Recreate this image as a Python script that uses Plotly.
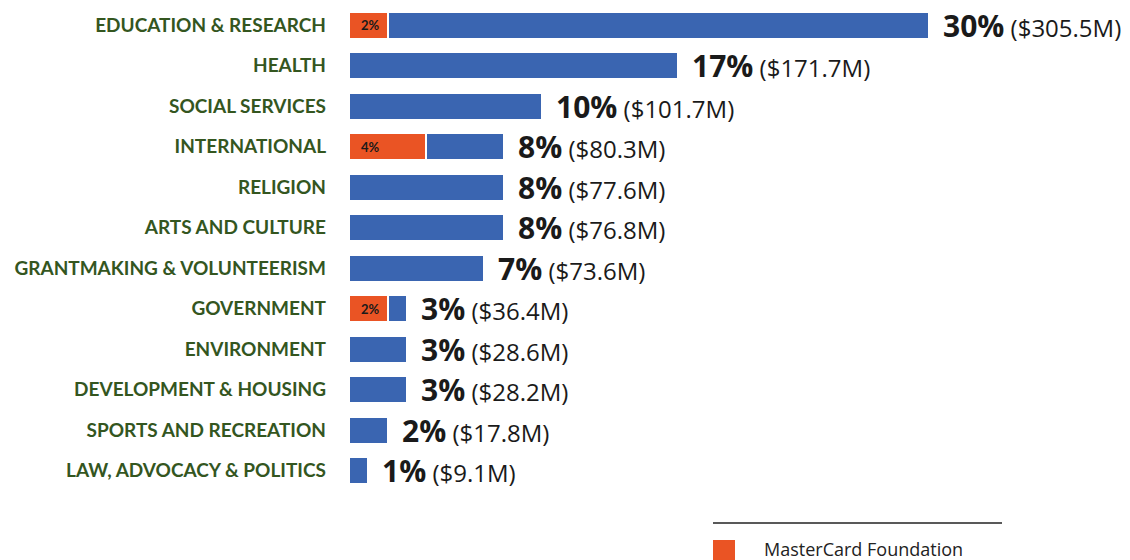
import plotly.graph_objects as go

categories = ["EDUCATION & RESEARCH", "HEALTH", "SOCIAL SERVICES", "INTERNATIONAL",
              "RELIGION", "ARTS AND CULTURE", "GRANTMAKING & VOLUNTEERISM", "GOVERNMENT",
              "ENVIRONMENT", "DEVELOPMENT & HOUSING", "SPORTS AND RECREATION",
              "LAW, ADVOCACY & POLITICS"]
total_pct = [30, 17, 10, 8, 8, 8, 7, 3, 3, 3, 2, 1]
mastercard_pct = [2, 0, 0, 4, 0, 0, 0, 2, 0, 0, 0, 0]
dollars = ["$305.5M", "$171.7M", "$101.7M", "$80.3M", "$77.6M", "$76.8M", "$73.6M",
           "$36.4M", "$28.6M", "$28.2M", "$17.8M", "$9.1M"]

other_pct = [t - m for t, m in zip(total_pct, mastercard_pct)]

BLUE = "#3A65B1"
ORANGE = "#EA5424"
GREEN = "#34561F"

fig = go.Figure()
fig.add_trace(go.Bar(
    y=categories, x=mastercard_pct, orientation="h", name="MasterCard Foundation",
    marker=dict(color=ORANGE, line=dict(color="white", width=2)),
    hoverinfo="skip",
))
fig.add_trace(go.Bar(
    y=categories, x=other_pct, orientation="h", name="Other",
    marker=dict(color=BLUE, line=dict(color="white", width=2)),
    hoverinfo="skip",
))

for c, m in zip(categories, mastercard_pct):
    if m:
        fig.add_annotation(
            x=0, y=c, xref="x", yref="y", xanchor="left", yanchor="middle",
            xshift=10, showarrow=False, text=f"<b>{m}%</b>",
            font=dict(family="Lato", size=13, color="#1a1a1a"),
        )

for c, t, d in zip(categories, total_pct, dollars):
    fig.add_annotation(
        x=t, y=c, xref="x", yref="y", xanchor="left", yanchor="middle",
        xshift=12, showarrow=False,
        text=f"<b><span style='font-size:30px'>{t}%</span></b> ({d})",
        font=dict(family="Open Sans", size=24, color="#1a1a1a"),
    )

# legend drawn as decoration
PLOT_TOP = 5
PLOT_H = 486
def py(p):
    return (PLOT_TOP + PLOT_H - p) / PLOT_H

fig.add_shape(type="line", xref="paper", yref="paper",
              x0=(713 - 349) / 773, x1=(1002 - 349) / 773, y0=py(523), y1=py(523),
              line=dict(color="#222", width=1.5))
fig.add_shape(type="rect", xref="paper", yref="paper",
              x0=(713 - 349) / 773, x1=(735 - 349) / 773, y0=py(540), y1=py(575),
              fillcolor=ORANGE, line=dict(width=0))
fig.add_annotation(x=(762 - 349) / 773, y=py(549), xref="paper", yref="paper",
                   xanchor="left", yanchor="middle", showarrow=False,
                   text="MasterCard Foundation",
                   font=dict(family="Open Sans", size=18, color="#222"))

fig.update_layout(
    barmode="stack", bargap=0.33,
    width=1130, height=560,
    margin=dict(l=349, r=8, t=PLOT_TOP, b=560 - PLOT_TOP - PLOT_H, autoexpand=False),
    plot_bgcolor="white", paper_bgcolor="white",
    showlegend=False,
    xaxis=dict(range=[0, 40], visible=False),
    yaxis=dict(categoryorder="array", categoryarray=categories[::-1],
               range=[-0.5, 11.5], showgrid=False, zeroline=False,
               ticks="", ticklabelstandoff=22, automargin=False,
               tickfont=dict(family="Lato", size=19, color=GREEN, weight="bold")),
)

fig.write_html("out.html", config={"displayModeBar": False},
               post_script="document.body.style.margin='0';")
